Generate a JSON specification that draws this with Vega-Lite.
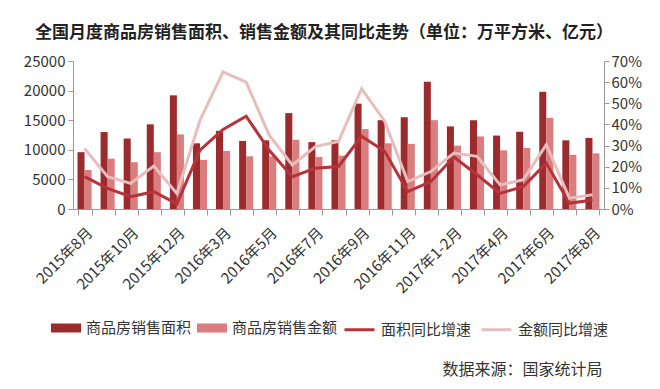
{
  "$schema": "https://vega.github.io/schema/vega-lite/v6.json",
  "width": 531,
  "height": 148,
  "autosize": {"type": "none"},
  "padding": {"left": 73, "top": 61, "right": 56, "bottom": 180},
  "background": "white",
  "config": {
    "font": "Noto Sans CJK SC",
    "view": {"stroke": null},
    "axis": {"labelFont": "Noto Sans CJK SC", "titleFont": "Noto Sans CJK SC", "labelColor": "#333", "domainColor": "#999", "tickColor": "#999", "grid": false}
  },
  "title": {
    "text": "全国月度商品房销售面积、销售金额及其同比走势（单位：万平方米、亿元）",
    "anchor": "start",
    "frame": "group",
    "dx": -38,
    "offset": 12,
    "fontSize": 17,
    "fontWeight": "bold",
    "color": "#222",
    "font": "Noto Sans CJK SC"
  },
  "data": {
    "values": [
      {"m": "2015年8月", "area": 9600, "sales": 6600, "ag": 15.3, "sg": 28.6},
      {"m": "2015年9月", "area": 13000, "sales": 8500, "ag": 9.7, "sg": 15.3},
      {"m": "2015年10月", "area": 11900, "sales": 7900, "ag": 5.8, "sg": 12.1},
      {"m": "2015年11月", "area": 14300, "sales": 9600, "ag": 8.2, "sg": 20.3},
      {"m": "2015年12月", "area": 19200, "sales": 12600, "ag": 2.4, "sg": 7.4},
      {"m": "2016年1-2月", "area": 11100, "sales": 8300, "ag": 27.8, "sg": 42.0},
      {"m": "2016年3月", "area": 13200, "sales": 9800, "ag": 37.6, "sg": 64.8},
      {"m": "2016年4月", "area": 11500, "sales": 8900, "ag": 43.9, "sg": 60.0},
      {"m": "2016年5月", "area": 11600, "sales": 8900, "ag": 27.8, "sg": 34.9},
      {"m": "2016年6月", "area": 16200, "sales": 11700, "ag": 15.3, "sg": 20.8},
      {"m": "2016年7月", "area": 11300, "sales": 8800, "ag": 19.3, "sg": 29.5},
      {"m": "2016年8月", "area": 11600, "sales": 9000, "ag": 20.1, "sg": 32.0},
      {"m": "2016年9月", "area": 17800, "sales": 13500, "ag": 34.4, "sg": 56.9},
      {"m": "2016年10月", "area": 15000, "sales": 11100, "ag": 27.3, "sg": 41.5},
      {"m": "2016年11月", "area": 15500, "sales": 11000, "ag": 8.2, "sg": 13.0},
      {"m": "2016年12月", "area": 21500, "sales": 15000, "ag": 13.0, "sg": 17.7},
      {"m": "2017年1-2月", "area": 13950, "sales": 10700, "ag": 24.6, "sg": 26.5},
      {"m": "2017年3月", "area": 15000, "sales": 12260, "ag": 16.2, "sg": 24.9},
      {"m": "2017年4月", "area": 12400, "sales": 9900, "ag": 7.4, "sg": 11.4},
      {"m": "2017年5月", "area": 13050, "sales": 10300, "ag": 10.6, "sg": 13.8},
      {"m": "2017年6月", "area": 19800, "sales": 15400, "ag": 21.7, "sg": 30.4},
      {"m": "2017年7月", "area": 11600, "sales": 9150, "ag": 2.7, "sg": 5.1},
      {"m": "2017年8月", "area": 12000, "sales": 9400, "ag": 4.3, "sg": 6.7}
    ]
  },
  "encoding": {
    "x": {
      "field": "m",
      "type": "nominal",
      "sort": null,
      "scale": {"paddingInner": 0.39, "paddingOuter": 0.195},
      "axis": {
        "labelAngle": -45,
        "labelFontSize": 15,
        "labelPadding": 10,
        "tickBand": "extent",
        "tickSize": 6,
        "labelExpr": "indexof(['2015年8月','2015年10月','2015年12月','2016年3月','2016年5月','2016年7月','2016年9月','2016年11月','2017年1-2月','2017年4月','2017年6月','2017年8月'], datum.value) >= 0 ? datum.value : ''",
        "title": "数据来源：国家统计局",
        "titleFontSize": 16,
        "titleFontWeight": "normal",
        "titleColor": "#333",
        "titleAnchor": "end",
        "titleAlign": "right",
        "titleBaseline": "alphabetic",
        "titleX": 529,
        "titleY": 165
      }
    }
  },
  "layer": [
    {
      "transform": [{"fold": ["area", "sales"], "as": ["k", "v"]}],
      "mark": {"type": "bar"},
      "encoding": {
        "y": {
          "field": "v",
          "type": "quantitative",
          "scale": {"domain": [0, 25000]},
          "axis": {"title": null, "format": "d", "values": [0, 5000, 10000, 15000, 20000, 25000], "labelFontSize": 15, "tickSize": 5, "labelPadding": 3}
        },
        "xOffset": {"field": "k", "type": "nominal", "sort": ["area", "sales"]},
        "color": {
          "field": "k",
          "type": "nominal",
          "sort": ["area", "sales"],
          "scale": {"domain": ["area", "sales"], "range": ["#9c2b2e", "#d97d7e"]},
          "legend": {
            "orient": "none",
            "direction": "horizontal",
            "legendX": -22,
            "legendY": 252,
            "title": null,
            "symbolType": "M-1,-0.3H1V0.3H-1Z",
            "symbolSize": 900,
            "symbolStrokeWidth": 0,
            "labelFontSize": 15,
            "labelColor": "#333",
            "labelOffset": 5,
            "columnPadding": 5,
            "labelExpr": "datum.value == 'area' ? '商品房销售面积' : '商品房销售金额'"
          }
        }
      }
    },
    {
      "transform": [{"fold": ["ag", "sg"], "as": ["lk", "lv"]}],
      "mark": {"type": "line", "strokeWidth": 3},
      "encoding": {
        "y": {
          "field": "lv",
          "type": "quantitative",
          "scale": {"domain": [0, 70]},
          "axis": {"title": null, "orient": "right", "values": [0, 10, 20, 30, 40, 50, 60, 70], "labelExpr": "datum.value + '%'", "labelFontSize": 15, "tickSize": 5, "labelPadding": 2}
        },
        "color": {
          "field": "lk",
          "type": "nominal",
          "sort": ["sg", "ag"],
          "scale": {"domain": ["ag", "sg"], "range": ["#b83239", "#e8bdbd"]},
          "legend": {
            "orient": "none",
            "direction": "horizontal",
            "legendX": 270,
            "legendY": 252,
            "title": null,
            "symbolType": "stroke",
            "symbolSize": 900,
            "symbolStrokeWidth": 3,
            "labelFontSize": 15,
            "labelColor": "#333",
            "labelOffset": 5,
            "columnPadding": 3,
            "labelExpr": "datum.value == 'ag' ? '面积同比增速' : '金额同比增速'"
          }
        },
        "order": {"field": "lk", "sort": "descending"}
      }
    }
  ],
  "resolve": {"scale": {"y": "independent", "color": "independent"}}
}
